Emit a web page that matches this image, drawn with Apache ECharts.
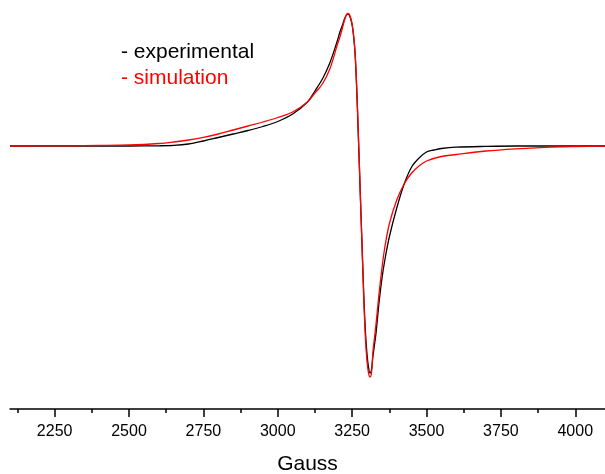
<!DOCTYPE html>
<html>
<head>
<meta charset="utf-8">
<script src="https://cdn.jsdelivr.net/npm/echarts@6/dist/echarts.min.js"></script>
<style>
  html, body { margin: 0; padding: 0; background: #fff; }
  #chart { width: 605px; height: 474px; }
</style>
</head>
<body>
<div id="chart"></div>
<script>
// Magnetic field (Gauss) and first-derivative EPR signal (arbitrary units)
const expField = [2100, 2300, 2500, 2600, 2650, 2700, 2750, 2800, 2850, 2900, 2950, 3000, 3050, 3100, 3125, 3150, 3175, 3200, 3210, 3220, 3225, 3230, 3235, 3240, 3245, 3250, 3255, 3260, 3265, 3270, 3275, 3280, 3285, 3290, 3295, 3300, 3305, 3310, 3315, 3320, 3330, 3340, 3350, 3360, 3375, 3400, 3425, 3450, 3475, 3500, 3525, 3550, 3600, 3700, 3800, 4100];
const expSignal = [0, 0, 0, 0.2, 0.6, 2, 5, 8.5, 12, 15.5, 19.5, 24.5, 32, 44, 55, 67, 83, 105, 115, 123, 127.5, 130.5, 132, 131, 127.5, 121, 110, 92, 60, 18, -26, -70, -113, -155, -187, -208, -221, -227, -224, -210, -188, -158, -133, -114, -91, -62, -38, -21, -12, -6, -4, -2.5, -1.2, -0.4, 0, 0];

const simField = [2100, 2300, 2400, 2500, 2600, 2650, 2700, 2750, 2800, 2850, 2900, 2950, 3000, 3050, 3100, 3125, 3150, 3175, 3200, 3210, 3220, 3225, 3230, 3235, 3240, 3245, 3250, 3255, 3260, 3265, 3270, 3275, 3280, 3285, 3290, 3295, 3300, 3305, 3310, 3315, 3320, 3330, 3340, 3350, 3360, 3375, 3400, 3425, 3450, 3475, 3500, 3550, 3600, 3700, 3800, 3900, 4000, 4100];
const simSignal = [0, 0.2, 0.5, 1, 2.5, 4, 6, 8.7, 12, 16, 20, 24, 28.5, 34, 44, 53, 62, 77, 101, 110, 121, 126.5, 130.5, 132.5, 132, 128, 122, 110, 93, 62, 20, -25, -71, -116, -160, -194, -215, -227, -231, -227, -206, -179, -149, -123, -101, -78, -54, -38, -27, -20, -15, -10.5, -8.5, -5, -2.8, -1.3, -0.5, 0];

// Axis ticks
const majorTicks = [2250, 2500, 2750, 3000, 3250, 3500, 3750, 4000];
const minorTicks = [2125, 2375, 2625, 2875, 3125, 3375, 3625, 3875];

const FONT = 'Liberation Sans, Arial, Helvetica, sans-serif';

const pairs = (xs, ys) => xs.map((x, i) => [x, ys[i]]);

const chart = echarts.init(document.getElementById('chart'), null, { renderer: 'canvas' });

chart.setOption({
  backgroundColor: '#ffffff',
  animation: false,
  grid: { left: 10, right: 0, top: 0, bottom: 65, containLabel: false, outerBoundsMode: 'none' },
  legend: {
    orient: 'vertical',
    left: 111,
    top: 37,
    itemGap: 5,
    icon: 'none',
    itemWidth: 0,
    itemHeight: 0,
    selectedMode: false,
    formatter: name => '- ' + name,
    textStyle: { fontFamily: FONT, fontSize: 21 },
    data: [
      { name: 'experimental', textStyle: { color: '#000000' } },
      { name: 'simulation', textStyle: { color: '#ff0000' } }
    ]
  },
  xAxis: [
    {
      type: 'value',
      min: 2100,
      max: 4100,
      name: 'Gauss',
      nameLocation: 'middle',
      nameGap: 45,
      nameTextStyle: { fontFamily: FONT, fontSize: 21, color: '#000' },
      axisLine: { show: true, onZero: false, lineStyle: { color: '#000', width: 1.5 } },
      axisTick: { show: true, inside: false, length: 8, customValues: majorTicks, lineStyle: { color: '#000', width: 1.5 } },
      axisLabel: {
        show: true, customValues: majorTicks, margin: 15,
        formatter: v => String(v),
        fontFamily: FONT, fontSize: 16, color: '#000'
      },
      splitLine: { show: false }
    },
    {
      type: 'value',
      min: 2100,
      max: 4100,
      position: 'bottom',
      axisLine: { show: false, onZero: false },
      axisTick: { show: true, inside: false, length: 4, customValues: minorTicks, lineStyle: { color: '#000', width: 1.5 } },
      axisLabel: { show: false },
      splitLine: { show: false }
    }
  ],
  yAxis: {
    type: 'value',
    min: -263,
    max: 146,
    show: false,
    splitLine: { show: false }
  },
  series: [
    {
      name: 'experimental',
      type: 'line',
      xAxisIndex: 0,
      data: pairs(expField, expSignal),
      showSymbol: false,
      smooth: 0.35,
      lineStyle: { color: '#000000', width: 1.3 },
      itemStyle: { color: '#000000' },
      z: 3
    },
    {
      name: 'simulation',
      type: 'line',
      xAxisIndex: 0,
      data: pairs(simField, simSignal),
      showSymbol: false,
      smooth: 0.35,
      lineStyle: { color: '#ff0000', width: 1.3 },
      itemStyle: { color: '#ff0000' },
      z: 4
    }
  ]
});
</script>
</body>
</html>
